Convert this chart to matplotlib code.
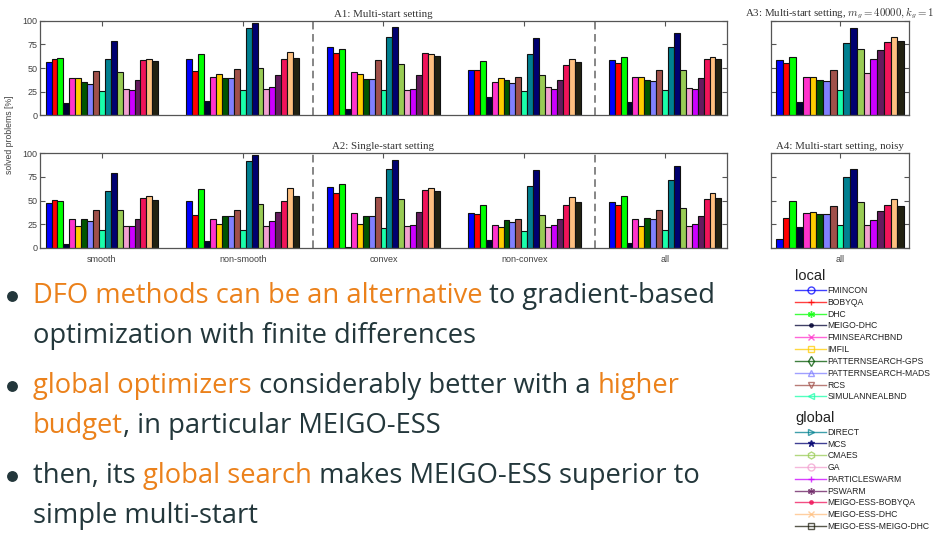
import matplotlib
matplotlib.use('Agg')
import matplotlib.pyplot as plt
from matplotlib.lines import Line2D
import numpy as np

plt.rcParams['mathtext.fontset'] = 'cm'

solvers = ['FMINCON', 'BOBYQA', 'DHC', 'MEIGO-DHC', 'FMINSEARCHBND', 'IMFIL',
           'PATTERNSEARCH-GPS', 'PATTERNSEARCH-MADS', 'RCS', 'SIMULANNEALBND',
           'DIRECT', 'MCS', 'CMAES', 'GA', 'PARTICLESWARM', 'PSWARM',
           'MEIGO-ESS-BOBYQA', 'MEIGO-ESS-DHC', 'MEIGO-ESS-MEIGO-DHC']
n_local = 10
colors = ['#0000FF', '#FF0000', '#00FF00', '#000033', '#FF33CC', '#FFCC00',
          '#005500', '#8080FF', '#A0504A', '#1AFFAA',
          '#008090', '#000070', '#99CC55', '#F2A0D0', '#CC00FF', '#661A5E',
          '#F0145A', '#FFC080', '#222211']
markers = ['o', '+', (6, 2, 0), '.', 'x', 's', 'd', '^', 'v', '<',
           '>', '*', 'h', 'o', '+', (6, 2, 0), '.', 'x', 's']

classes = ['smooth', 'non-smooth', 'convex', 'non-convex', 'all']

# solved problems [%], one row per class, one column per solver
multi_start = np.array([
    [56, 60, 61, 13, 39, 39, 35, 33, 47, 26, 60, 79, 46, 28, 27, 37, 58, 59, 57],
    [60, 47, 65, 15, 40, 44, 39, 39, 49, 27, 92, 98, 50, 28, 30, 43, 60, 67, 61],
    [72, 66, 70, 7, 46, 44, 38, 38, 58, 27, 83, 93, 54, 27, 28, 43, 66, 65, 63],
    [48, 48, 57, 19, 35, 39, 37, 34, 41, 26, 65, 82, 43, 30, 28, 37, 53, 60, 56],
    [58, 55, 62, 14, 40, 41, 37, 36, 48, 27, 72, 87, 48, 29, 28, 39, 59, 62, 59],
])
single_start = np.array([
    [47, 51, 50, 4, 30, 23, 30, 28, 40, 19, 60, 79, 40, 23, 23, 30, 53, 55, 51],
    [50, 35, 62, 7, 30, 25, 34, 34, 40, 19, 92, 98, 46, 23, 28, 38, 49, 63, 55],
    [64, 58, 68, 1, 37, 25, 34, 34, 54, 21, 83, 93, 52, 23, 24, 38, 61, 63, 60],
    [37, 36, 45, 8, 24, 22, 29, 27, 30, 18, 65, 82, 35, 22, 24, 30, 45, 54, 48],
    [48, 45, 55, 5, 30, 23, 31, 30, 40, 19, 72, 87, 42, 23, 25, 34, 52, 58, 53],
])
multi_start_large = np.array([58, 55, 62, 14, 40, 41, 37, 36, 48, 27,
                              76, 92, 70, 45, 59, 69, 78, 83, 79])
multi_start_noisy = np.array([9, 31, 50, 22, 37, 38, 36, 36, 44, 24,
                              75, 83, 48, 24, 29, 39, 45, 52, 44])

W, H = 939, 533
fig = plt.figure(figsize=(W / 100, H / 100), dpi=100)

tick_font = 'Liberation Sans'
axis_col = '#555555'
label_col = '#404040'


def px_axes(x0, y0, x1, y1):
    return fig.add_axes([x0 / W, 1 - y1 / H, (x1 - x0) / W, (y1 - y0) / H])


def grouped_bars(ax, data, gw):
    data = np.atleast_2d(data)
    ng, ns = data.shape
    centers = np.arange(1, ng + 1)
    bw = gw / ns
    for i in range(ns):
        ax.bar(centers - gw / 2 + (i + 0.5) * bw, data[:, i], width=bw,
               color=colors[i], edgecolor='#111111', linewidth=0.8, zorder=2)
    return centers


def style(ax, centers, labels, title, xlim):
    ax.set_xlim(*xlim)
    ax.set_ylim(0, 100)
    ax.set_xticks(centers)
    ax.set_yticks([0, 25, 50, 75, 100])
    if labels is None:
        ax.set_xticklabels([])
    else:
        ax.set_xticklabels(labels)
    ax.tick_params(direction='in', length=3.5, width=0.8, color=axis_col,
                   top=True, right=True, labelsize=6.5, labelcolor=label_col,
                   pad=2)
    for lab in ax.get_xticklabels() + ax.get_yticklabels():
        lab.set_fontfamily(tick_font)
    ax.tick_params(axis='x', pad=5)
    for sp in ax.spines.values():
        sp.set_color(axis_col)
        sp.set_linewidth(0.9)
    ax.set_title(title, fontsize=7.8, family='Liberation Serif', color='#333333', pad=3)


# left block: all classes, right block: single group
ax1 = px_axes(40, 20.7, 727, 115.3)
c = grouped_bars(ax1, multi_start, 0.8)
style(ax1, c, None, 'A1: Multi-start setting', (0.56, 5.44))

ax2 = px_axes(40, 153.3, 727, 247.7)
c = grouped_bars(ax2, single_start, 0.8)
style(ax2, c, classes, 'A2: Single-start setting', (0.56, 5.44))

for ax in (ax1, ax2):
    for xd in (2.5, 4.5):
        ax.axvline(xd, color='#666666', lw=1.1, ls=(0, (5, 3)), zorder=1)

ax3 = px_axes(771, 20.7, 909, 115.3)
c = grouped_bars(ax3, multi_start_large, 0.93)
style(ax3, c, None, r'A3: Multi-start setting, $m_g = 40000, k_g = 1$', (0.5, 1.5))
ax3.set_yticklabels([])

ax4 = px_axes(771, 153.3, 909, 247.7)
c = grouped_bars(ax4, multi_start_noisy, 0.93)
style(ax4, c, ['all'], 'A4: Multi-start setting, noisy', (0.5, 1.5))
ax4.set_yticklabels([])

fig.text(10 / W, 1 - 134.5 / H, 'solved problems [%]', rotation=90,
         ha='center', va='center', fontsize=6.2, family=tick_font, color=label_col)

# overlay in pixel units for the text block and legends
ov = fig.add_axes([0, 0, 1, 1])
ov.set_xlim(0, W)
ov.set_ylim(H, 0)
ov.axis('off')
ov.set_zorder(-1)

dark = '#23373B'
orange = '#EB811B'
body_font = 'Open Sans'
body_size = 19.7

bullets = [
    (303, [[('DFO methods can be an alternative', orange), (' to gradient-based', dark)],
           [('optimization with finite differences', dark)]]),
    (393, [[('global optimizers', orange), (' considerably better with a ', dark), ('higher', orange)],
           [('budget', orange), (', in particular MEIGO-ESS', dark)]]),
    (483, [[('then, its ', dark), ('global search', orange), (' makes MEIGO-ESS superior to', dark)],
           [('simple multi-start', dark)]]),
]

for base, lines in bullets:
    ov.plot([11.5], [base - 7], 'o', color=dark, markersize=6.8)
    for k, segs in enumerate(lines):
        y = base + 40 * k
        prev = None
        for txt, col in segs:
            if prev is None:
                prev = ov.text(33, y, txt, color=col, fontsize=body_size,
                               family=body_font, va='baseline', ha='left')
            else:
                prev = ov.annotate(txt, xy=(1, y), xycoords=(prev, 'data'),
                                   color=col, fontsize=body_size, family=body_font,
                                   va='baseline', ha='left')


def legend_block(idx, title, top, spacing):
    handles = []
    for i in idx:
        filled = markers[i] in ('*', '.', '+', 'x') or isinstance(markers[i], tuple)
        handles.append(Line2D([], [], color=colors[i], lw=1.0, alpha=0.75,
                              marker=markers[i], markersize=5,
                              markerfacecolor=colors[i] if filled else 'none',
                              markeredgecolor=colors[i], markeredgewidth=1.0))
    leg = ov.legend(handles, [solvers[i] for i in idx], title=title,
                    loc='upper left', bbox_to_anchor=(795, top),
                    bbox_transform=ov.transData, frameon=False,
                    prop={'family': tick_font, 'size': 6.2},
                    title_fontproperties={'family': tick_font, 'size': 10.5},
                    alignment='left', handlelength=3.6, handletextpad=0.2,
                    labelspacing=spacing, borderpad=0, borderaxespad=0)
    for t in leg.get_texts():
        t.set_color('#222222')
    leg.get_title().set_color('#222222')
    return leg


leg1 = legend_block(range(n_local), 'local', 269, 0.33)
ov.add_artist(leg1)
legend_block(range(n_local, len(solvers)), 'global', 411, 0.32)

fig.savefig('out.png', dpi=100)
